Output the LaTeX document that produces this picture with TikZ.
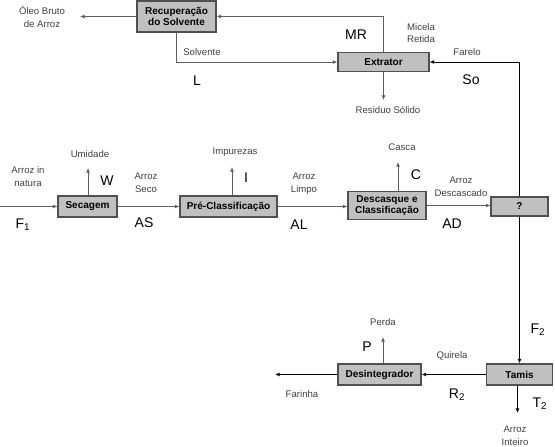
\documentclass[tikz,border=0pt]{standalone}
\usepackage{fontspec}
\setmainfont{Liberation Sans}
\usetikzlibrary{arrows.meta}
\definecolor{boxfill}{HTML}{C0C0C0}
\definecolor{boxline}{HTML}{505050}
\definecolor{lineg}{HTML}{606060}
\definecolor{labg}{HTML}{404040}
\tikzset{
  box/.style={draw=boxline, fill=boxfill, line width=0.8pt, font=\fontsize{7.5}{8.5}\selectfont\bfseries, inner sep=0pt, align=center},
  lab/.style={font=\fontsize{7.2}{9.5}\selectfont, text=labg, align=center, inner sep=0pt},
  big/.style={font=\fontsize{10.5}{12}\selectfont, inner sep=0pt},
  flow/.style={draw=lineg, line width=0.6pt, -{Latex[length=3.5pt,width=3pt]}},
  flowk/.style={draw=black, line width=0.75pt, -{Latex[length=3.5pt,width=3pt]}},
}
\begin{document}
\begin{tikzpicture}[x=0.75pt,y=-0.75pt]
\useasboundingbox (0,0) rectangle (555,446);
% boxes
\node[box, minimum width=59.25pt, minimum height=23.25pt] (rec) at (176.5,16.5) {Recuperação\\do Solvente};
\node[box, minimum width=68.25pt, minimum height=14.25pt] (ext) at (383.5,62) {Extrator};
\node[box, minimum width=44.25pt, minimum height=15.75pt] (sec) at (87.5,206.5) {Secagem};
\node[box, minimum width=72.75pt, minimum height=15.75pt] (pre) at (228.5,206.5) {Pré-Classificação};
\node[box, minimum width=58.5pt, minimum height=21pt] (des) at (387,205.5) {Descasque e\\Classificação};
\node[box, minimum width=42.75pt, minimum height=14.25pt] (q) at (519.5,206.5) {?};
\node[box, minimum width=49.5pt, minimum height=15.75pt] (tam) at (519.5,374.5) {Tamis};
\node[box, minimum width=62.25pt, minimum height=15.75pt] (dsi) at (379.5,374.5) {Desintegrador};
% free ends
\coordinate (in0) at (0,206.5);
\coordinate (oleo) at (80,16.5);
\coordinate (resid) at (383.5,100);
\coordinate (umid) at (88,168);
\coordinate (imp) at (232,167);
\coordinate (casc) at (398,162);
\coordinate (perd) at (383,337);
\coordinate (farin) at (275,374.5);
\coordinate (inteiro) at (517.5,413);
% connectors
\draw[flow] (in0) -- (sec.west);
\draw[flow] (sec.east) -- (pre.west);
\draw[flow] (pre.east) -- (pre.east -| des.west);
\draw[flow] (des.east) -- (des.east -| q.west);
\draw[flow] (sec.north -| umid) -- (umid);
\draw[flow] (pre.north -| imp) -- (imp);
\draw[flow] (des.north -| casc) -- (casc);
\draw[flowk] (q.north) |- (ext.east);
\draw[flowk] (q.south) -- (q.south |- tam.north);
\draw[flowk] (tam.west) -- (dsi.east);
\draw[flowk] (dsi.west) -- (farin);
\draw[flow] (dsi.north -| perd) -- (perd);
\draw[flowk] (tam.south -| inteiro) -- (inteiro);
\draw[flow] (ext.south) -- (resid);
\draw[flow] (ext.north) |- (rec.east);
\draw[flow] (rec.west) -- (oleo);
\draw[flow] (rec.south) |- (ext.west);
% labels
\node[lab] (l1) at (42,17) {Óleo Bruto\\de Arroz};
\node[lab] (l2) at (202,52) {Solvente};
\node[big] (l3) at (197,81) {L};
\node[big] (l4) at (356,35) {MR};
\node[lab] (l5) at (421,33) {Micela\\Retida};
\node[lab] (l6) at (467,52) {Farelo};
\node[big] (l7) at (471,80) {So};
\node[lab] (l8) at (388,110) {Residuo Sólido};
\node[lab] (l9) at (28,176.5) {Arroz in\\natura};
\node[big] (l10) at (23,225) {F\textsubscript{1}};
\node[lab] (l11) at (90,154) {Umidade};
\node[big] (l12) at (107,181) {W};
\node[lab] (l13) at (146,183) {Arroz\\Seco};
\node[big] (l14) at (144,223) {AS};
\node[lab] (l15) at (235,152) {Impurezas};
\node[big] (l16) at (246,178) {I};
\node[lab] (l17) at (304,184) {Arroz\\Limpo};
\node[big] (l18) at (299,225) {AL};
\node[lab] (l19) at (402,147) {Casca};
\node[big] (l20) at (416,175) {C};
\node[lab] (l21) at (461,187) {Arroz\\Descascado};
\node[big] (l22) at (452,224) {AD};
\node[big] (l23) at (538,330) {F\textsubscript{2}};
\node[lab] (l24) at (383,322) {Perda};
\node[big] (l25) at (367,347) {P};
\node[lab] (l26) at (452,356) {Quirela};
\node[big] (l27) at (457,395) {R\textsubscript{2}};
\node[lab] (l28) at (302,394) {Farinha};
\node[big] (l29) at (540,404) {T\textsubscript{2}};
\node[lab] (l30) at (515,436) {Arroz\\Inteiro};
\end{tikzpicture}
\end{document}
